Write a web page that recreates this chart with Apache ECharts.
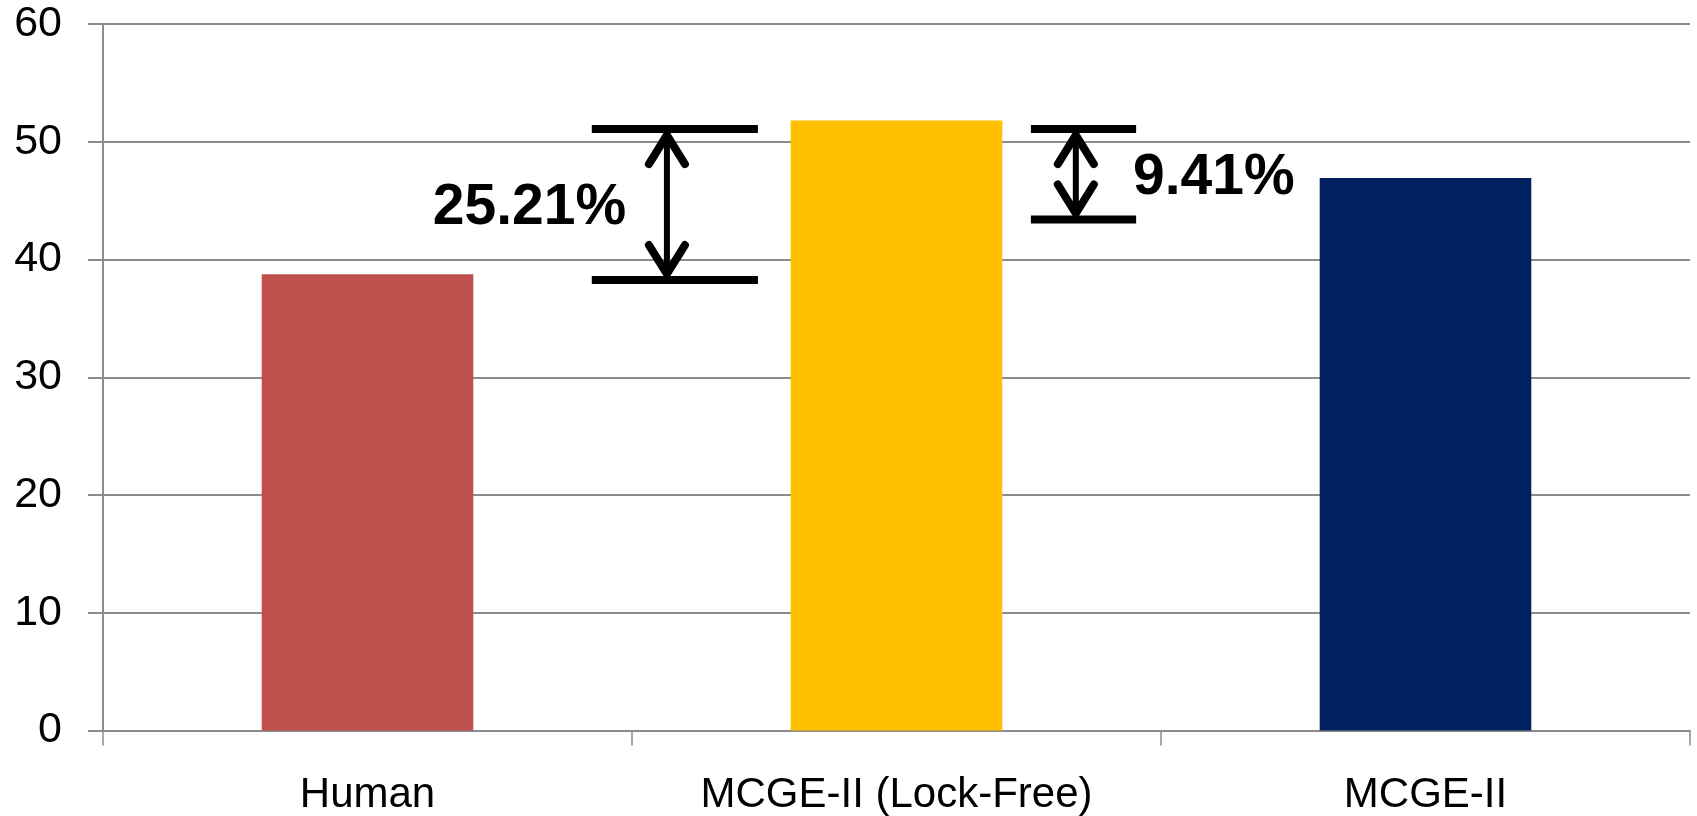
<!DOCTYPE html>
<html>
<head>
<meta charset="utf-8">
<script src="https://cdn.jsdelivr.net/npm/echarts@6/dist/echarts.min.js"></script>
<style>
html,body{margin:0;padding:0;background:#fff;}
#chart{width:1697px;height:816px;}
</style>
</head>
<body>
<div id="chart"></div>
<script>
// ---- data ----
var categories = ['Human', 'MCGE-II (Lock-Free)', 'MCGE-II'];
var values = [38.74, 51.8, 46.93];
var barColors = ['#C0504D', '#FFC000', '#002060'];
var yTicks = [0, 10, 20, 30, 40, 50, 60];

// annotation brackets (x in category units, 0..3; y in data units)
var annArrowX = [1.066, 1.839];
var annTopY = [51.08, 51.08];
var annBottomY = [38.26, 43.40];
var annBarLeftX = [0.924, 1.754];
var annBarRightX = [1.238, 1.953];
var annLabels = ['25.21%', '9.41%'];
var annLabelX = [0.989, 1.947];
var annLabelY = [44.37, 46.92];
var annLabelAlign = ['right', 'left'];

var chart = echarts.init(document.getElementById('chart'));

var annData = annArrowX.map(function (x, i) {
  return [x, annTopY[i], annBottomY[i], annBarLeftX[i], annBarRightX[i], annLabelX[i], annLabelY[i]];
});

function renderAnn(params, api) {
  var i = params.dataIndex;
  var xa = api.value(0), yt = api.value(1), yb = api.value(2);
  var x1 = api.value(3), x2 = api.value(4);
  var lx = api.value(5), ly = api.value(6);
  var pTop = api.coord([xa, yt]);
  var pBot = api.coord([xa, yb]);
  var pL1 = api.coord([x1, yt]), pR1 = api.coord([x2, yt]);
  var pL2 = api.coord([x1, yb]), pR2 = api.coord([x2, yb]);
  var pLab = api.coord([lx, ly]);
  var barW = 8, half = barW / 2;
  var tipTop = pTop[1] + half, tipBot = pBot[1] - half;
  var hx = 18, hy = 31;
  var blk = '#000';
  return {
    type: 'group',
    children: [
      { type: 'line', shape: { x1: pL1[0], y1: pL1[1], x2: pR1[0], y2: pR1[1] }, style: { stroke: blk, lineWidth: barW } },
      { type: 'line', shape: { x1: pL2[0], y1: pL2[1], x2: pR2[0], y2: pR2[1] }, style: { stroke: blk, lineWidth: barW } },
      { type: 'line', shape: { x1: pTop[0], y1: tipTop + 4, x2: pBot[0], y2: tipBot - 4 }, style: { stroke: blk, lineWidth: 6 } },
      { type: 'polyline', shape: { points: [[pTop[0] - hx, tipTop + hy], [pTop[0], tipTop + 2], [pTop[0] + hx, tipTop + hy]] },
        style: { stroke: blk, lineWidth: 8, fill: null, lineCap: 'round', lineJoin: 'miter', miterLimit: 10 } },
      { type: 'polyline', shape: { points: [[pBot[0] - hx, tipBot - hy], [pBot[0], tipBot - 2], [pBot[0] + hx, tipBot - hy]] },
        style: { stroke: blk, lineWidth: 8, fill: null, lineCap: 'round', lineJoin: 'miter', miterLimit: 10 } },
      { type: 'text', x: pLab[0], y: pLab[1],
        style: { text: annLabels[i], fill: blk, font: 'bold 57px "Liberation Sans", Arial, sans-serif',
                 align: annLabelAlign[i], verticalAlign: 'middle' } }
    ]
  };
}

var axisGray = '#8c8c8c';
var option = {
  animation: false,
  backgroundColor: '#fff',
  grid: { left: 103, right: 7, top: 24, bottom: 85.4, containLabel: false, outerBoundsMode: 'none' },
  xAxis: [
    {
      type: 'category',
      data: categories,
      boundaryGap: true,
      axisLine: { show: true, lineStyle: { color: axisGray, width: 2 } },
      axisTick: { show: true, length: 15, alignWithLabel: false, interval: 0, lineStyle: { color: axisGray, width: 1.5 } },
      axisLabel: { color: '#000', fontSize: 42, fontFamily: '"Liberation Sans", Arial, sans-serif', margin: 44, interval: 0 },
      splitLine: { show: false }
    },
    { type: 'value', min: 0, max: 3, show: false, position: 'bottom' }
  ],
  yAxis: {
    type: 'value',
    min: yTicks[0],
    max: yTicks[yTicks.length - 1],
    interval: 10,
    axisLine: { show: true, lineStyle: { color: axisGray, width: 2 } },
    axisTick: { show: true, length: 15, lineStyle: { color: axisGray, width: 2 } },
    axisLabel: { color: '#000', fontSize: 43, fontFamily: '"Liberation Sans", Arial, sans-serif', margin: 41 },
    splitLine: { show: true, lineStyle: { color: axisGray, width: 2 } }
  },
  series: [
    {
      type: 'bar',
      xAxisIndex: 0,
      barWidth: '40%',
      data: values.map(function (v, i) { return { value: v, itemStyle: { color: barColors[i] } }; }),
      z: 2
    },
    {
      type: 'custom',
      xAxisIndex: 1,
      yAxisIndex: 0,
      clip: false,
      silent: true,
      renderItem: renderAnn,
      encode: { x: [0, 3, 4, 5], y: [1, 2, 6] },
      data: annData,
      z: 5
    }
  ]
};
chart.setOption(option);
</script>
</body>
</html>
